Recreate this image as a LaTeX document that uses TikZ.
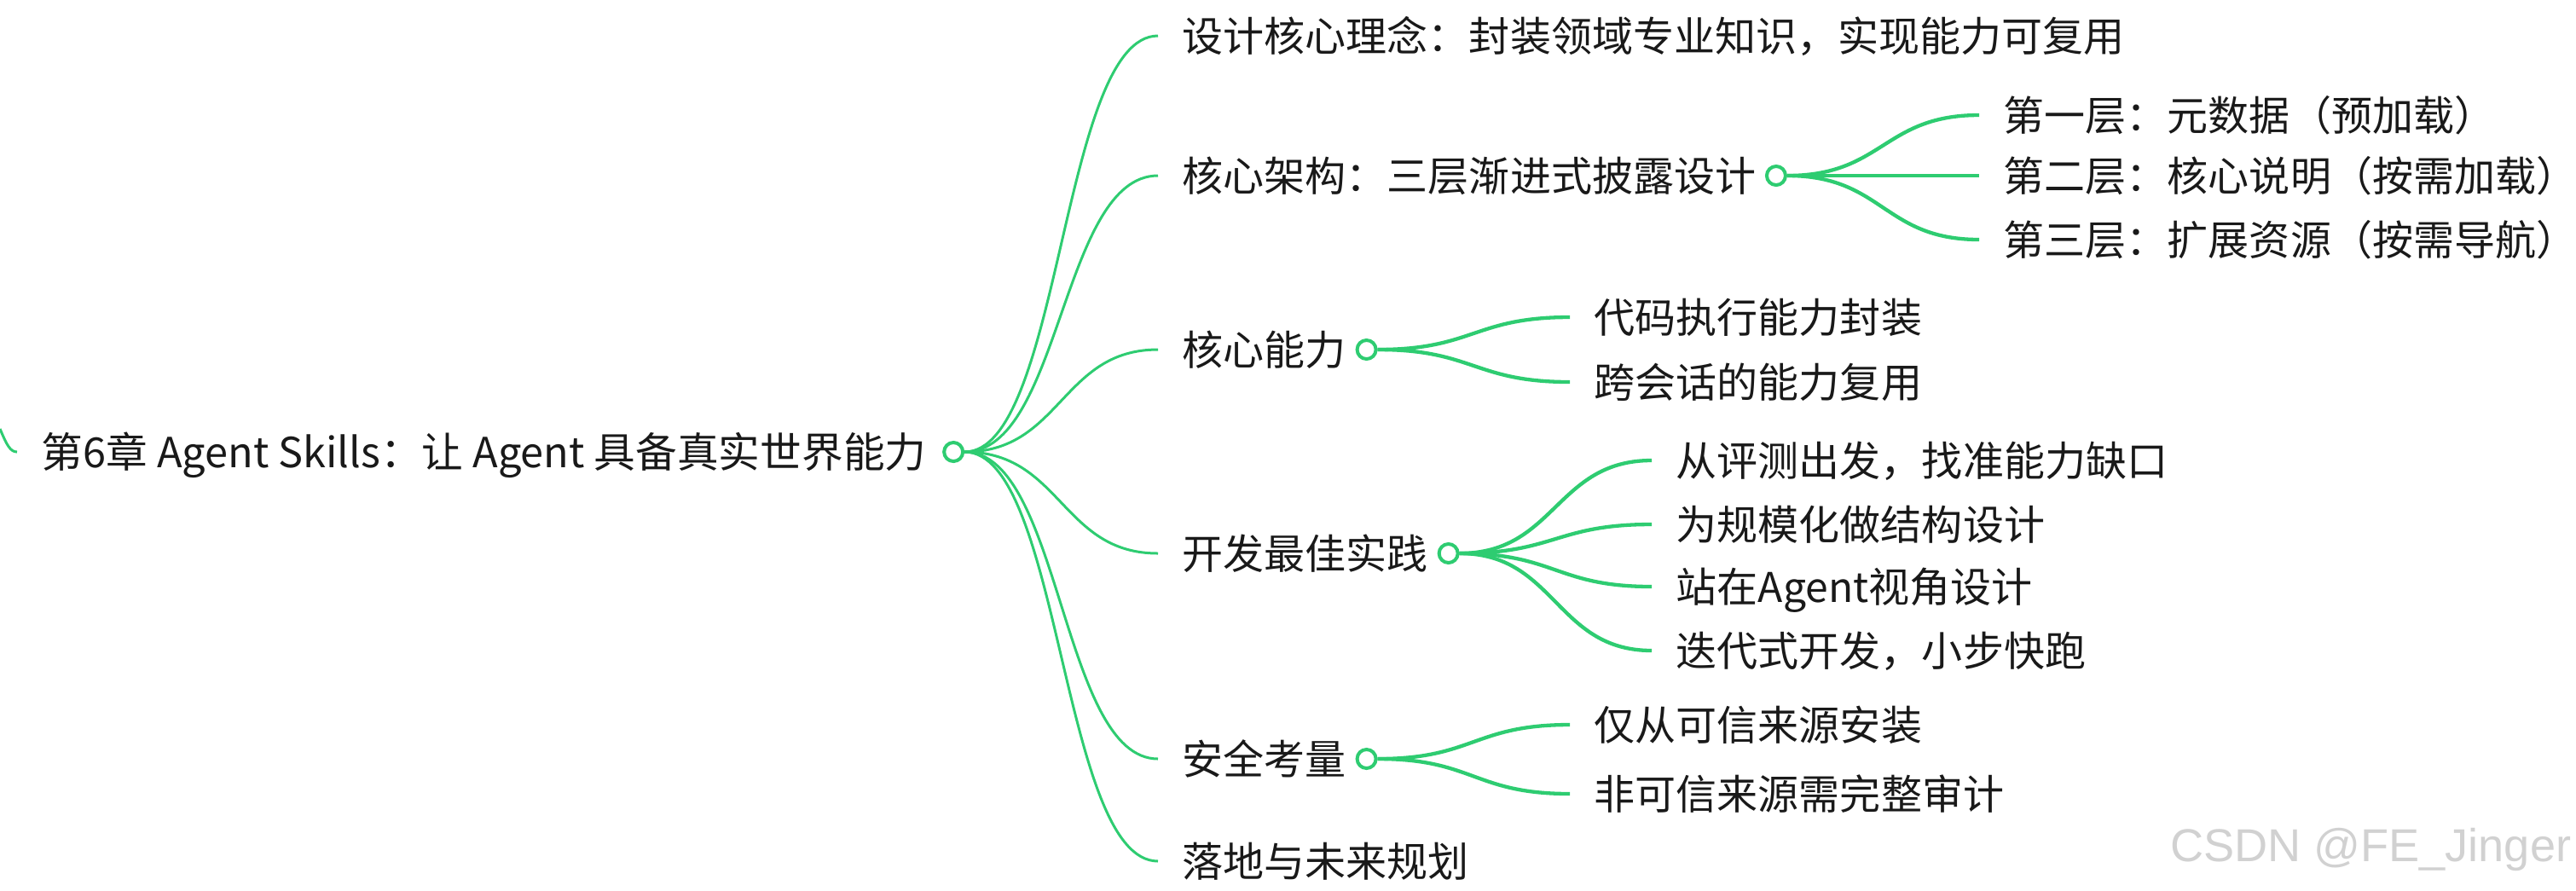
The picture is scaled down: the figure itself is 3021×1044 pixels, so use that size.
\documentclass[tikz,border=0pt]{standalone}
\usepackage{fontspec}
\usetikzlibrary{positioning, calc, backgrounds}
\newfontfamily\cjk{Noto Sans CJK SC}
\newfontfamily\wmark{Liberation Sans}
\definecolor{mgrn}{RGB}{46,204,113}
\definecolor{tblk}{RGB}{25,25,25}
\tikzset{
  % Topic text, line meets it at west
  TP/.style={anchor=west,inner xsep=0.28cm,inner ysep=0pt,
             text height=0.44cm,text depth=0.08cm,
             font=\cjk\fontsize{13.66pt}{16pt}\selectfont,text=tblk},
  % Hollow fold dot
  FD/.style={circle,draw=mgrn,fill=white,line width=0.04cm,
             minimum size=0.22cm,inner sep=0pt},
  % Branch lines: first level thin, second level thicker
  Lnk/.style={draw=mgrn,line width=0.03cm},
  Lnk2/.style={draw=mgrn,line width=0.043cm},
}

\begin{document}
\begin{tikzpicture}[x=0.01cm,y=-0.01cm]
  \useasboundingbox (0,0) rectangle (3021,1044);
  % Root topic
  \node[TP,font=\cjk\fontsize{13.85pt}{16pt}\selectfont] (root) at (20,530)
       {第6章 Agent Skills：让 Agent 具备真实世界能力};
  \node[FD] (rootD) at ([xshift=0.03cm]root.east) {};
  \coordinate (src) at (0,503);
  % First level -- column at x = 1358
  \node[TP] (idea) at (1358,42)  {设计核心理念：封装领域专业知识，实现能力可复用};
  \node[TP] (arch) at (1358,206) {核心架构：三层渐进式披露设计};
  \node[FD] (archD) at ([xshift=-0.05cm]arch.east) {};
  \node[TP] (abil) at (1358,410) {核心能力};
  \node[FD] (abilD) at ([xshift=-0.05cm]abil.east) {};
  \node[TP] (prac) at (1358,649) {开发最佳实践};
  \node[FD] (pracD) at ([xshift=-0.05cm]prac.east) {};
  \node[TP] (safe) at (1358,890) {安全考量};
  \node[FD] (safeD) at ([xshift=-0.05cm]safe.east) {};
  \node[TP] (plan) at (1358,1010) {落地与未来规划};
  % Second level
  \node[TP] (lay1) at (2321,135) {第一层：元数据（预加载）};
  \node[TP] (lay2) at (2321,206) {第二层：核心说明（按需加载）};
  \node[TP] (lay3) at (2321,281) {第三层：扩展资源（按需导航）};
  \node[TP] (ab1) at (1841,372) {代码执行能力封装};
  \node[TP] (ab2) at (1841,448) {跨会话的能力复用};
  \node[TP] (pr1) at (1937,540) {从评测出发，找准能力缺口};
  \node[TP] (pr2) at (1937,615) {为规模化做结构设计};
  \node[TP] (pr3) at (1937,688) {站在Agent视角设计};
  \node[TP] (pr4) at (1937,763) {迭代式开发，小步快跑};
  \node[TP] (sf1) at (1841,850) {仅从可信来源安装};
  \node[TP] (sf2) at (1841,931) {非可信来源需完整审计};
  % Branch lines under the dots
  \begin{scope}[on background layer]
    \draw[Lnk] (src) .. controls (8,522) and (12,530) .. (root.west);
    \foreach \a/\b in {rootD/idea,rootD/arch,rootD/abil,rootD/prac,rootD/safe,rootD/plan}
      \draw[Lnk] let \p1=(\a.east), \p2=(\b.west) in
        (\p1) .. controls ({(\x1+\x2)/2},\y1) and ({(\x1+\x2)/2},\y2) .. (\p2);
    \foreach \a/\b in {archD/lay1,archD/lay2,archD/lay3,abilD/ab1,abilD/ab2,
                       pracD/pr1,pracD/pr2,pracD/pr3,pracD/pr4,safeD/sf1,safeD/sf2}
      \draw[Lnk2] let \p1=(\a.east), \p2=(\b.west) in
        (\p1) .. controls ({(\x1+\x2)/2},\y1) and ({(\x1+\x2)/2},\y2) .. (\p2);
  \end{scope}
  % Watermark
  \node[anchor=east,inner sep=0pt,font=\wmark\fontsize{15.4pt}{18pt}\selectfont,
        text=black!18] (wm) at (3016,996) {CSDN @FE\_Jinger};
\end{tikzpicture}
\end{document}
